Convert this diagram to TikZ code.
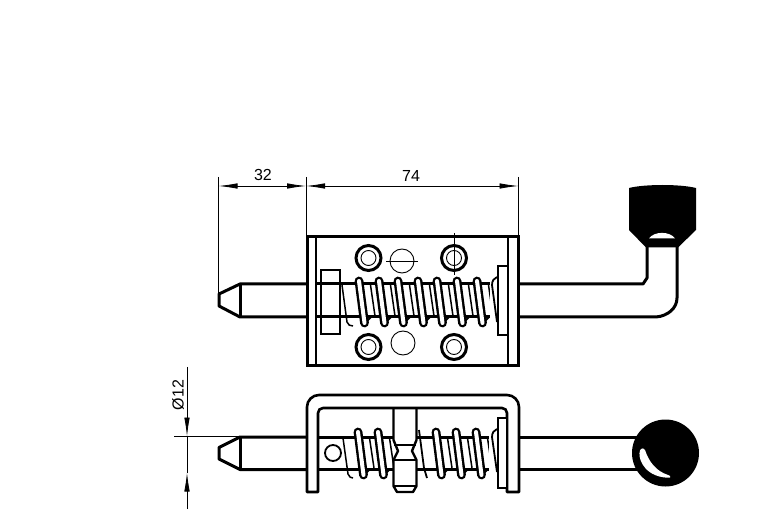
\documentclass[tikz,border=0pt]{standalone}
\usepackage{fontspec}
\setmainfont{Liberation Sans}
\usetikzlibrary{arrows.meta}
\tikzset{
  thk/.style={line width=3pt,line join=miter,line cap=butt},
  thn/.style={line width=0.9pt},
  med/.style={line width=1.5pt},
  dim/.style={line width=0.8pt,{Latex[length=19pt,width=5.5pt]}-{Latex[length=19pt,width=5.5pt]}},
  lead/.style={line width=0.8pt,-{Latex[length=19pt,width=5.5pt]}},
  lab/.style={font=\fontsize{16}{16}\selectfont,inner sep=0pt}
}
\newcommand{\coilat}[4]{% xtop ytop xbot ybot
  \draw[line width=8.8pt,line cap=round,black] (#1,#2) -- (#3,#4);
  \draw[line width=4pt,line cap=round,white] (#1,#2) -- (#3,#4);
}
\begin{document}
\begin{tikzpicture}[x=1pt,y=-1pt]
\useasboundingbox (0,0) rectangle (782,529);
\fill[white] (0,0) rectangle (782,529);
% ---- dimension coordinates
\coordinate (d1) at (218.5,186);
\coordinate (d2) at (306,186);
\coordinate (d3) at (518.5,186);
\draw[line width=0.8pt] (218.5,177) -- (218.5,293);
\draw[line width=0.8pt] (306,177) -- (306,236);
\draw[line width=0.8pt] (518.5,177) -- (518.5,236);
\draw[dim] (d1) -- (d2);
\draw[dim] (d2) -- (d3);
\node[lab] (t32) at (263,175) {32};
\node[lab] (t74) at (411,176) {74};
% ---- top view: pin
\draw[thk,line join=round] (306,284) -- (240,284) -- (219,294) -- (219,306) -- (240,317) -- (306,317);
\draw[thk] (240,284) -- (240,317);
% body
\draw[thk] (307.5,237) rectangle (518,366);
\draw[med] (316,237) -- (316,366);
\draw[med] (508,237) -- (508,366);
% shaft inside
\draw[thk] (316,284) -- (498,284);
\draw[thk] (316,317) -- (498,317);
% bolts
\foreach \bx/\by in {368.5/258,454/258,368.5/347,454/347}{
  \draw[line width=3pt] (\bx,\by) circle (12.5);
  \draw[thn] (\bx,\by) circle (7.5);
}
\draw[thn] (402,261) circle (12);
\draw[thn] (386,261) -- (418,261);
\draw[thn] (403,343) circle (12);
\draw[thn] (454,233) -- (454,275);
% spring top view
\foreach \xx in {359,379,398,418,437,457,477}{
  \draw[med] (\xx+11.5,285) -- (\xx+16,316);
  \draw[line width=1.8pt] (\xx+6,323) -- (\xx+12,317);
  \coilat{\xx}{281}{\xx+5.5}{323}
}
\draw[med,line join=round] (342,285) -- (347,322) .. controls (348,325) and (350,326) .. (353,326);
\fill[white] (490,279) rectangle (497,322);
\draw[line width=1.8pt] (497,277) .. controls (494,278) and (492,281) .. (492,285) -- (497,322);
% nut
\draw[line width=1.6pt,fill=white] (321,270) rectangle (340,334);
\draw[thk] (316,284) -- (340,284);
\draw[thk] (316,317) -- (340,317);
% washer
\draw[line width=2.4pt,fill=white] (498,266) rectangle (508,335);
% handle
\draw[thk,line join=round] (518,284) -- (643,284) -- (647,278) -- (647,246);
\draw[thk] (518,317) -- (656,317) .. controls (668,316) and (677,308) .. (677,298) -- (677,246);
\fill[black] (629,188) .. controls (645,184) and (680,184) .. (696,188) -- (696,230) -- (678,247.5) -- (646,247.5) -- (629,230) -- cycle;
\fill[white] (649,238.5) .. controls (654,231) and (670,231) .. (675,238.5) -- cycle;
% ---- lower view: pin
\draw[thk,line join=round] (307,437) -- (240,437) -- (219,447.5) -- (219,459) -- (240,469.5) -- (307,469.5);
\draw[thk] (240,437) -- (240,469.5);
\draw[thk] (318,437) -- (393,437);
\draw[thk] (318,469.5) -- (393,469.5);
\draw[thk] (417,437) -- (498,437);
\draw[thk] (417,469.5) -- (498,469.5);
% spring lower
\foreach \xx in {358,378,436,456,476}{
  \draw[med] (\xx+11.5,438) -- (\xx+16,468);
  \draw[line width=1.8pt] (\xx+6,475) -- (\xx+12,469);
  \coilat{\xx}{432}{\xx+5.5}{475}
}
\draw[med,line join=round] (343,438) -- (348,474) .. controls (349,477) and (351,478) .. (353,478);
\draw[line width=1.8pt] (419,430) -- (424,468) -- (427,478);
\fill[white] (489,432) rectangle (497,474);
\draw[line width=1.8pt] (497,429) .. controls (494,430) and (492,433) .. (492,437) -- (497,472);
% small circle
\draw[line width=1.8pt,fill=white] (333,453) circle (8);
% centre post
\draw[line width=2.4pt,fill=white,line join=round] (393.5,408) -- (393.5,440) -- (398,451) -- (393.5,460) -- (393.5,486) -- (397,492) -- (413,492) -- (416.5,486) -- (416.5,460) -- (412,451) -- (416.5,440) -- (416.5,408);
\draw[line width=1.8pt] (394,445) -- (416,445);
\draw[line width=1.8pt] (394,460) -- (416,460);
\draw[line width=1.4pt] (394,486) -- (416,486);
% bracket
\draw[line width=2.6pt,fill=white,line join=round]
  (307,492) -- (307,407) .. controls (307,400.4) and (312.4,395) .. (319,395) -- (507,395) .. controls (513.6,395) and (519,400.4) .. (519,407) -- (519,492) -- (507,492) -- (507,413) .. controls (507,410.2) and (504.8,408) .. (502,408) -- (323,408) .. controls (320.2,408) and (318,410.2) .. (318,413) -- (318,492) -- cycle;
% washer lower
\draw[line width=2.4pt,fill=white] (498,418) rectangle (507,488);
% lower handle
\draw[thk] (520,437) -- (640,437);
\draw[thk] (520,469.5) -- (640,469.5);
\fill[black] (665.5,453) circle (33.5);
\fill[white] (641,449) .. controls (637.5,452) and (639,468) .. (655,475) .. controls (661,477.5) and (667,478) .. (670,477.5) .. controls (671,476.5) and (670,475.5) .. (668,475) .. controls (656,471) and (649,462) .. (645,450) .. controls (644,448) and (642,448) .. (641,449) -- cycle;
% ---- diameter dimension
\coordinate (e1) at (187,367);
\coordinate (e2) at (187,436.5);
\coordinate (e3) at (187,509);
\coordinate (e4) at (187,472.5);
\draw[lead] (e1) -- (e2);
\draw[lead] (e3) -- (e4);
\draw[line width=0.8pt] (e2) -- (e4);
\draw[line width=0.8pt] (174,436.5) -- (240,436.5);
\node[lab,rotate=90] (t12) at (178,395) {Ø12};
\end{tikzpicture}
\end{document}
